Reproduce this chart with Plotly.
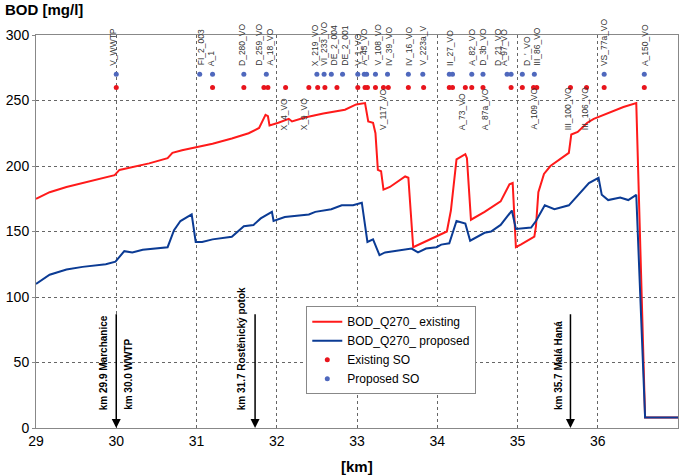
import plotly.graph_objects as go

# ---------------- data ----------------
red_km = [29.0, 29.17, 29.38, 29.58, 29.79, 29.98, 30.04, 30.2, 30.41, 30.64, 30.7, 30.82, 30.99, 31.2, 31.44,
          31.65, 31.78, 31.86, 31.89, 31.91, 32.02, 32.15, 32.19, 32.35, 32.58, 32.85, 32.99, 33.06, 33.1, 33.14,
          33.2, 33.23, 33.26, 33.3, 33.33, 33.41, 33.6, 33.64, 33.7, 33.84, 34.12, 34.17, 34.24, 34.35, 34.37,
          34.42, 34.59, 34.79, 34.9, 34.94, 34.98, 35.04, 35.21, 35.23, 35.26, 35.33, 35.41, 35.64, 35.67, 35.75,
          35.87, 35.95, 36.12, 36.32, 36.48, 36.59, 37.0]
red_val = [175, 180, 184, 187, 190, 193, 197, 199, 202, 206, 210, 212, 214, 217, 221,
           225, 229, 239, 238, 231, 233, 236, 234, 237, 240, 243, 247, 248, 248, 234,
           233, 225, 197, 196, 182, 184, 192, 191, 138, 142, 150, 166, 205, 209, 206,
           159, 165, 173, 186, 187, 138, 140, 146, 154, 180, 194, 200, 210, 224, 226,
           233, 236, 240, 245, 248, 8, 8]

blue_km = [29.0, 29.17, 29.38, 29.58, 29.87, 29.99, 30.1, 30.2, 30.33, 30.64, 30.72, 30.8, 30.94, 30.99, 31.07,
           31.2, 31.44, 31.59, 31.71, 31.8, 31.94, 31.96, 32.1, 32.23, 32.4, 32.48, 32.68, 32.81, 32.95, 33.06,
           33.13, 33.2, 33.28, 33.35, 33.47, 33.68, 33.76, 33.86, 33.99, 34.05, 34.15, 34.24, 34.35, 34.41, 34.59,
           34.67, 34.79, 34.93, 34.98, 35.17, 35.23, 35.34, 35.46, 35.64, 35.89, 36.01, 36.05, 36.13, 36.28, 36.38,
           36.48, 36.59, 37.0]
blue_val = [110, 117, 121, 123, 125, 127, 135, 134, 136, 138, 151, 158, 163, 142, 142,
            144, 146, 154, 155, 160, 165, 158, 161, 162, 163, 165, 167, 170, 170, 172,
            142, 144, 132, 134, 135, 137, 134, 137, 138, 140, 141, 158, 156, 143, 149,
            150, 155, 166, 152, 153, 158, 170, 167, 170, 187, 191, 178, 174, 176, 174,
            178, 8, 8]

exist_so_km = [30.0, 31.2, 31.59, 31.84, 31.89, 32.11, 32.40, 32.51, 32.60, 32.75, 33.01, 33.10, 33.13, 33.23,
               33.33, 33.39, 33.64, 33.83, 34.15, 34.19, 34.35, 34.43, 34.57, 34.92, 35.06, 35.20, 35.24, 35.66,
               35.86, 36.08, 36.58]
exist_so_val = 260
prop_so_km = [30.0, 31.04, 31.2, 31.59, 31.87, 32.50, 32.59, 32.68, 32.82, 33.01, 33.09, 33.12, 33.23, 33.38,
              33.64, 33.82, 34.15, 34.19, 34.43, 34.57, 34.87, 34.92, 35.06, 35.21, 36.08, 36.58]
prop_so_val = 270

upper_labels = ["V_WWTP", "FI_2_003", "A_1", "D_280_VO", "D_259_VO", "A_18_VO", "X_219_VO", "VI_233_VO",
                "DE_2_004", "DE_2_001", "V_1_VO", "A_45_VO", "V_108_VO", "IV_39_VO", "IV_16_VO", "V_223a_V",
                "II_27_VO", "A_82_VO", "D_3b_VO", "D_21_VO", "A_97_VO", "D_'_VO", "III_86_VO", "VS_77a_VO",
                "A_150_VO"]
upper_km = [29.96, 31.05, 31.18, 31.57, 31.78, 31.92, 32.47, 32.59, 32.71, 32.85, 33.02, 33.09, 33.26, 33.39,
            33.64, 33.82, 34.15, 34.44, 34.57, 34.76, 34.83, 35.12, 35.25, 36.07, 36.58]
lower_labels = ["X_4_VO", "X_9_VO", "V_117_VO", "A_73_VO", "A_87a_VO", "A_109_VO", "III_100_VO", "III_106_VO"]
lower_km = [32.09, 32.35, 33.33, 34.32, 34.6, 35.2, 35.64, 35.85]

marker_text = ["km 29.9 Marchanice", "km 30.0 WWTP", "km 31.7 Rostěnický potok", "km 35.7 Malá Haná"]
marker_text_km = [29.84, 30.16, 31.56, 35.52]
arrow_km = [30.0, 31.73, 35.66]

x_ticks = [29, 30, 31, 32, 33, 34, 35, 36, 37]
y_ticks = [0, 50, 100, 150, 200, 250, 300]

FONT = "Liberation Sans, Arial, sans-serif"
RED = "#ff1a1a"
BLUE = "#0b3b94"

fig = go.Figure()
fig.add_trace(go.Scatter(x=red_km, y=red_val, mode="lines", name="BOD_Q270_ existing",
                         line=dict(color=RED, width=2)))
fig.add_trace(go.Scatter(x=blue_km, y=blue_val, mode="lines", name="BOD_Q270_ proposed",
                         line=dict(color=BLUE, width=2)))
fig.add_trace(go.Scatter(x=exist_so_km, y=[exist_so_val] * len(exist_so_km), mode="markers",
                         name="Existing SO", marker=dict(color="#e8141c", size=5)))
fig.add_trace(go.Scatter(x=prop_so_km, y=[prop_so_val] * len(prop_so_km), mode="markers",
                         name="Proposed SO", marker=dict(color="#4f68bd", size=5)))

annotations = []
for t, k in zip(upper_labels, upper_km):
    annotations.append(dict(x=k, y=275, xref="x", yref="y", text=t, textangle=-90, showarrow=False,
                            xanchor="center", yanchor="bottom", font=dict(family=FONT, size=8.5, color="#333")))
for t, k in zip(lower_labels, lower_km):
    annotations.append(dict(x=k, y=226, xref="x", yref="y", text=t, textangle=-90, showarrow=False,
                            xanchor="center", yanchor="bottom", font=dict(family=FONT, size=8.5, color="#333")))
for t, k in zip(marker_text, marker_text_km):
    annotations.append(dict(x=k, y=12, xref="x", yref="y", text="<b>" + t + "</b>", textangle=-90,
                            showarrow=False, xanchor="center", yanchor="bottom",
                            font=dict(family=FONT, size=10, color="#000")))
for k in arrow_km:
    annotations.append(dict(x=k, y=0, xref="x", yref="y", ax=k, ay=88, axref="x", ayref="y", text="",
                            showarrow=True, arrowhead=2, arrowsize=1.2, arrowwidth=1.5, arrowcolor="#000"))
annotations.append(dict(x=0.5, y=-0.097, xref="paper", yref="paper", text="<b>[km]</b>", showarrow=False,
                        xanchor="center", yanchor="middle", font=dict(family=FONT, size=15, color="#000")))
annotations.append(dict(x=-33 / 646, y=1 + 25 / 393, xref="paper", yref="paper", text="<b>BOD [mg/l]</b>",
                        showarrow=False, xanchor="left", yanchor="middle",
                        font=dict(family=FONT, size=15, color="#000")))

fig.update_layout(
    width=685, height=475,
    margin=dict(l=33, r=6, t=35, b=47),
    paper_bgcolor="white", plot_bgcolor="white",
    font=dict(family=FONT, color="#000"),
    showlegend=True,
    legend=dict(x=0.421, y=0.31, xanchor="left", yanchor="top", bgcolor="white",
                bordercolor="#888", borderwidth=1, font=dict(family=FONT, size=12, color="#000"),
                tracegroupgap=0, itemwidth=30),
    annotations=annotations,
)
fig.update_xaxes(range=[29, 37], tickvals=x_ticks, ticktext=[str(v) for v in x_ticks],
                 showgrid=True, gridcolor="#666", griddash="dot", gridwidth=1,
                 showline=True, linecolor="#888", linewidth=1, mirror=True,
                 ticks="", tickfont=dict(family=FONT, size=14, color="#000"), zeroline=False)
fig.update_yaxes(range=[0, 300], tickvals=y_ticks, ticktext=[str(v) for v in y_ticks],
                 showgrid=True, gridcolor="#666", griddash="dot", gridwidth=1,
                 showline=True, linecolor="#888", linewidth=1, mirror=True,
                 ticks="outside", ticklen=3, tickcolor="#888",
                 tickfont=dict(family=FONT, size=14, color="#000"), zeroline=False)

fig.write_html("out.html", config={"displayModeBar": False},
               post_script="document.body.style.margin='0';")
